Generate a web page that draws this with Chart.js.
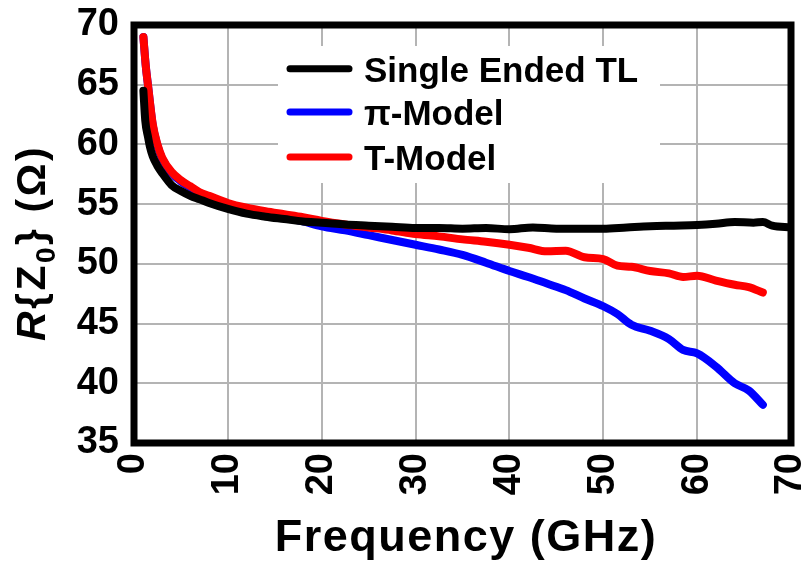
<!DOCTYPE html>
<html>
<head>
<meta charset="utf-8">
<script src="https://cdn.jsdelivr.net/npm/chart.js@4"></script>
<style>
  html, body { margin: 0; padding: 0; background: #fff; }
  canvas { display: block; }
</style>
</head>
<body>
<canvas id="zChart" width="806" height="561"></canvas>
<script>
// Single ended line, measured to the edge of the plot
const freqSE = [1.0, 1.2, 1.5, 1.7, 2, 2.5, 3, 4, 5, 6, 7, 8, 10, 12, 14, 16, 18, 20, 22.5, 25, 27.5, 30, 32.5, 35, 37.5, 40, 42.5, 45, 47.5, 50, 52.5, 55, 57.5, 60, 62, 64, 66, 67, 68, 70];
const zSE = [64.5, 62.0, 60.6, 59.8, 59.0, 58.2, 57.6, 56.6, 56.1, 55.7, 55.4, 55.1, 54.6, 54.2, 53.95, 53.75, 53.55, 53.45, 53.3, 53.2, 53.1, 53.0, 53.0, 52.95, 53.0, 52.9, 53.05, 52.95, 52.95, 52.95, 53.05, 53.15, 53.2, 53.25, 53.35, 53.5, 53.45, 53.5, 53.2, 53.05];

// pi / T models share the same frequency points
const freqModel = [1.0, 1.25, 1.5, 2, 2.5, 3, 4, 5, 6, 7, 8, 10, 12, 14, 16, 18, 20, 22.5, 25, 27.5, 30, 32.5, 35, 37.5, 40, 42, 44, 46, 48, 50, 51.5, 53, 55, 57, 58.5, 60, 62, 64, 65.5, 67];
const zPi = [69.0, 66.6, 64.9, 61.6, 59.9, 58.8, 57.6, 56.9, 56.4, 55.9, 55.6, 55.0, 54.55, 54.2, 53.9, 53.55, 53.15, 52.8, 52.4, 52.0, 51.6, 51.2, 50.75, 50.1, 49.4, 48.9, 48.35, 47.8, 47.1, 46.45, 45.8, 44.9, 44.4, 43.7, 42.8, 42.5, 41.4, 40.0, 39.4, 38.2];
const zT = [69.0, 66.6, 64.9, 61.7, 60.0, 58.9, 57.7, 57.0, 56.5, 56.0, 55.7, 55.1, 54.7, 54.4, 54.15, 53.9, 53.6, 53.3, 53.05, 52.8, 52.5, 52.3, 52.05, 51.85, 51.6, 51.35, 51.05, 51.1, 50.55, 50.4, 49.85, 49.75, 49.4, 49.2, 48.9, 49.0, 48.6, 48.25, 48.05, 47.6];

const xTicks = [0, 10, 20, 30, 40, 50, 60, 70];
const yTicks = [35, 40, 45, 50, 55, 60, 65, 70];

const seriesNames = ["Single Ended TL", "π-Model", "T-Model"];
const seriesColors = ["#000000", "#0000ff", "#ff0000"];

const FONT = "'Liberation Sans', Arial, sans-serif";
const GRID = "#b4b4b4";

function toPoints(xs, ys) {
  return xs.map((x, i) => ({ x: x, y: ys[i] }));
}

// frame, legend box and the two axis titles
const decorations = {
  id: "decorations",
  beforeDatasetsDraw(chart) {
    const ctx = chart.ctx;
    ctx.save();
    // legend sits on a white box over the grid
    ctx.fillStyle = "#fff";
    ctx.fillRect(278, 46, 382, 137);
    const baselines = [81.7, 125, 170];
    ctx.lineCap = "round";
    ctx.lineWidth = 7;
    ctx.font = "bold 35px " + FONT;
    ctx.textBaseline = "alphabetic";
    ctx.textAlign = "left";
    seriesNames.forEach((name, i) => {
      const y = baselines[i] - 13;
      ctx.strokeStyle = seriesColors[i];
      ctx.beginPath();
      ctx.moveTo(290, y);
      ctx.lineTo(349, y);
      ctx.stroke();
      ctx.fillStyle = "#000";
      ctx.fillText(name, 364, baselines[i]);
    });
    ctx.restore();
  },
  afterDraw(chart) {
    const ctx = chart.ctx;
    const a = chart.chartArea;
    ctx.save();
    ctx.strokeStyle = "#000";
    ctx.lineWidth = 7;
    ctx.lineJoin = "miter";
    ctx.strokeRect(a.left, a.top, a.right - a.left, a.bottom - a.top);

    // x title
    ctx.fillStyle = "#000";
    ctx.font = "bold 45px " + FONT;
    ctx.letterSpacing = "1.5px";
    ctx.textAlign = "center";
    ctx.textBaseline = "alphabetic";
    ctx.fillText("Frequency (GHz)", 466, 551);

    // y title: R{Z0} (Ω) with italic R and subscript 0
    const parts = [
      { text: "R", font: "italic bold 41px " + FONT, dy: 0 },
      { text: "{Z", font: "bold 41px " + FONT, dy: 0 },
      { text: "0", font: "bold 28px " + FONT, dy: 10 },
      { text: "} (Ω)", font: "bold 41px " + FONT, dy: 0 }
    ];
    ctx.letterSpacing = "2.5px";
    ctx.translate(45, 243);
    ctx.rotate(-Math.PI / 2);
    ctx.textAlign = "left";
    let total = 0;
    parts.forEach(p => { ctx.font = p.font; p.w = ctx.measureText(p.text).width; total += p.w; });
    let x = -total / 2;
    parts.forEach(p => {
      ctx.font = p.font;
      ctx.fillText(p.text, x, p.dy);
      x += p.w;
    });
    ctx.restore();
  }
};

const lineDefaults = {
  borderWidth: 8,
  pointRadius: 0,
  fill: false,
  cubicInterpolationMode: "monotone",
  borderCapStyle: "round",
  borderJoinStyle: "round"
};

new Chart(document.getElementById("zChart").getContext("2d"), {
  type: "line",
  data: {
    datasets: [
      Object.assign({ label: seriesNames[0], data: toPoints(freqSE, zSE), borderColor: seriesColors[0] }, lineDefaults),
      Object.assign({ label: seriesNames[2], data: toPoints(freqModel, zT), borderColor: seriesColors[2] }, lineDefaults),
      Object.assign({ label: seriesNames[1], data: toPoints(freqModel, zPi), borderColor: seriesColors[1] }, lineDefaults)
    ]
  },
  options: {
    responsive: false,
    animation: false,
    devicePixelRatio: 1,
    layout: { padding: { left: 0, right: 15, top: 25, bottom: 0 } },
    plugins: {
      legend: { display: false },
      tooltip: { enabled: false }
    },
    scales: {
      x: {
        type: "linear",
        min: 0,
        max: 70,
        afterBuildTicks: s => { s.ticks = xTicks.map(v => ({ value: v })); },
        afterFit: s => {
          s.height = 118;
          s.paddingLeft = 0;
          s.paddingRight = 0;
        },
        ticks: {
          minRotation: 90,
          maxRotation: 90,
          padding: 10,
          color: "#000",
          font: { family: FONT, size: 38, weight: "bold" }
        },
        grid: { color: GRID, lineWidth: 2, drawTicks: false },
        border: { display: false }
      },
      y: {
        type: "linear",
        min: 35,
        max: 70,
        afterBuildTicks: s => { s.ticks = yTicks.map(v => ({ value: v })); },
        afterFit: s => {
          s.width = 134;
          s.paddingTop = 0;
          s.paddingBottom = 0;
        },
        ticks: {
          padding: 15,
          color: "#000",
          font: { family: FONT, size: 38, weight: "bold" }
        },
        grid: { color: GRID, lineWidth: 2, drawTicks: false },
        border: { display: false }
      }
    }
  },
  plugins: [decorations]
});
</script>
</body>
</html>
